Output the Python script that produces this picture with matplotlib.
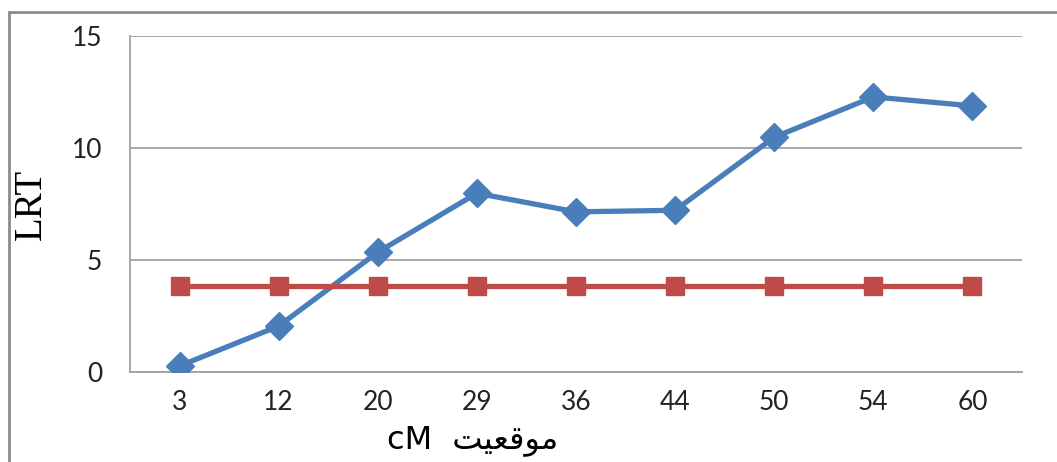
import matplotlib
matplotlib.use("Agg")
import matplotlib.pyplot as plt
from matplotlib.patches import Rectangle

# data
positions = ["3", "12", "20", "29", "36", "44", "50", "54", "60"]
lrt = [0.27, 2.05, 5.35, 7.98, 7.15, 7.22, 10.48, 12.28, 11.88]
threshold = [3.84] * 9
yticks = [0, 5, 10, 15]

# Arabic word given in presentation forms, visual order (matplotlib has no shaping)
xlabel_txt = "cM  \uFE96\uFEF4\uFECC\uFED7\uFEEE\uFEE3"

fig = plt.figure(figsize=(10.57, 4.62), dpi=100)
ax = fig.add_axes([130/1057, 1 - 372/462, (1022-130)/1057, (372-36)/462])

x = range(len(positions))
ax.plot(x, lrt, color="#4A7EBB", lw=3.8, marker="D", ms=14, zorder=3)
ax.plot(x, threshold, color="#BE4B48", lw=3.8, marker="s", ms=13.5, zorder=3)

ax.set_xlim(-0.5, len(positions) - 0.5)
ax.set_ylim(0, 15)
ax.set_xticks(list(x))
ax.set_xticklabels(positions)
ax.set_yticks(yticks)
ax.tick_params(length=0, labelsize=19, colors="#222222", pad=13)
ax.tick_params(axis="y", pad=20)
for lbl in ax.get_xticklabels() + ax.get_yticklabels():
    lbl.set_family("Lato")

ax.grid(axis="y", color="#A0A0A0", lw=1.3)
ax.set_axisbelow(True)
for s in ["top", "right"]:
    ax.spines[s].set_visible(False)
for s in ["left", "bottom"]:
    ax.spines[s].set_color("#A0A0A0")
    ax.spines[s].set_linewidth(1.3)

ax.set_ylabel("LRT", family="Liberation Serif", fontsize=28, labelpad=16)
fig.text(473/1057, 1 - 440/462, xlabel_txt, ha="center", va="center",
         fontsize=23, family=["DejaVu Sans"])

# outer chart border (cut off at right and bottom)
fig.patches.append(Rectangle((9/1057, -0.1), 1.2, 1 - 12/462 + 0.1,
                             transform=fig.transFigure, fill=False,
                             edgecolor="#8C8C8C", lw=2))

fig.savefig("out.png", dpi=100)
